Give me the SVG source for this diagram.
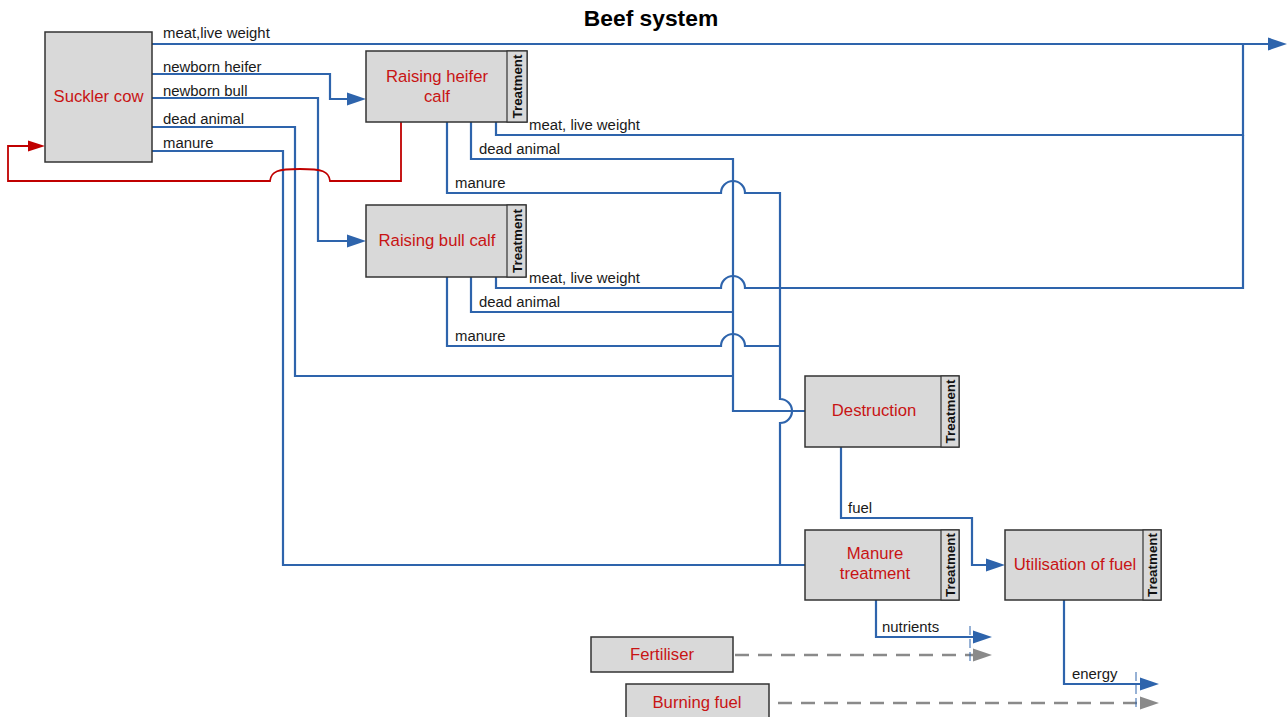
<svg xmlns="http://www.w3.org/2000/svg" width="1287" height="717" viewBox="0 0 1287 717">
<style>
.box{fill:#D9D9D9;stroke:#333;stroke-width:1.5}
.strip{fill:#D9D9D9;stroke:#333;stroke-width:1.2}
.nt{font-family:"Liberation Sans",Arial,sans-serif;font-size:16.7px;fill:#C81414;text-anchor:middle}
.tr{font-family:"Liberation Sans",Arial,sans-serif;font-size:13.4px;font-weight:bold;fill:#111;text-anchor:middle}
.lb{font-family:"Liberation Sans",Arial,sans-serif;font-size:14.9px;fill:#1a1a1a}
.c{fill:none;stroke:#2E64AC;stroke-width:2.2}
.cr{fill:none;stroke:#C00000;stroke-width:1.8}
.cg{fill:none;stroke:#8A8A8A;stroke-width:2.6;stroke-dasharray:14 9}
.mk{fill:none;stroke:#2E64AC;stroke-width:1;stroke-dasharray:9 4}
</style>
<defs>
<marker id="ab" markerUnits="userSpaceOnUse" markerWidth="19" markerHeight="14" refX="0" refY="7" orient="auto"><path d="M0,0.5 L19,7 L0,13.5 z" fill="#2E64AC"/></marker>
<marker id="ar" markerUnits="userSpaceOnUse" markerWidth="17" markerHeight="12" refX="0" refY="6" orient="auto"><path d="M0,0.5 L17,6 L0,11.5 z" fill="#C00000"/></marker>
<marker id="ag" markerUnits="userSpaceOnUse" markerWidth="19" markerHeight="14" refX="0" refY="7" orient="auto"><path d="M0,0.5 L19,7 L0,13.5 z" fill="#8A8A8A"/></marker>
</defs>
<text x="651" y="26" font-family="Liberation Sans,Arial,sans-serif" font-size="22.8" font-weight="bold" text-anchor="middle" fill="#000">Beef system</text>
<g id="connectors">
<path class="c" d="M152,44 H1268" marker-end="url(#ab)"/>
<path class="c" d="M152,74 H330 V99 H347" marker-end="url(#ab)"/>
<path class="c" d="M152,98 H318 V241 H347" marker-end="url(#ab)"/>
<path class="c" d="M152,127 H295 V376 H733"/>
<path class="c" d="M152,151 H283 V565 H805"/>
<path class="cr" d="M401,122 V181 H330 C329,171 322,169 300,169 C278,169 271,171 270,181 H8 V146 H28" marker-end="url(#ar)"/>
<path class="c" d="M496,122 V135 H1243 V44"/>
<path class="c" d="M471,122 V159 H733 V411 H805"/>
<path class="c" d="M447,122 V193 H721 A12,12 0 0 1 745,193 H780 V399 A12,12 0 0 1 780,423 V565"/>
<path class="c" d="M496,277 V288 H721 A12,12 0 0 1 745,288 H1243 V135"/>
<path class="c" d="M471,277 V312 H733"/>
<path class="c" d="M447,277 V346 H721 A12,12 0 0 1 745,346 H780"/>
<path class="c" d="M841,447 V518 H972 V565 H986" marker-end="url(#ab)"/>
<path class="c" d="M876,600 V637 H973" marker-end="url(#ab)"/>
<path class="c" d="M1064,600 V684 H1140" marker-end="url(#ab)"/>
<path class="cg" d="M735,655 H973" marker-end="url(#ag)"/>
<path class="cg" d="M778,703 H1140" marker-end="url(#ag)"/>
<path class="mk" d="M970,626 V664"/>
<path class="mk" d="M1136,672 V710"/>
<text class="lb" x="163" y="38">meat,live weight</text>
<text class="lb" x="163" y="72">newborn heifer</text>
<text class="lb" x="163" y="96">newborn bull</text>
<text class="lb" x="163" y="124">dead animal</text>
<text class="lb" x="163" y="148">manure</text>
<text class="lb" x="529" y="130">meat, live weight</text>
<text class="lb" x="479" y="154">dead animal</text>
<text class="lb" x="455" y="188">manure</text>
<text class="lb" x="529" y="283">meat, live weight</text>
<text class="lb" x="479" y="307">dead animal</text>
<text class="lb" x="455" y="341">manure</text>
<text class="lb" x="848" y="513">fuel</text>
<text class="lb" x="882" y="632">nutrients</text>
<text class="lb" x="1072" y="679">energy</text>
</g>
<g id="suckler-cow">
<rect class="box" x="45" y="32" width="107" height="130"/>
<text class="nt" x="98.5" y="102">Suckler cow</text>
</g>
<g id="raising-heifer-calf">
<rect class="box" x="366" y="51" width="161" height="71"/>
<rect class="strip" x="507" y="51" width="20" height="71"/>
<text class="tr" transform="translate(522,86.5) rotate(-90)">Treatment</text>
<text class="nt" x="437" y="82">Raising heifer</text>
<text class="nt" x="437" y="102">calf</text>
</g>
<g id="raising-bull-calf">
<rect class="box" x="366" y="205" width="160" height="72"/>
<rect class="strip" x="507" y="205" width="19" height="72"/>
<text class="tr" transform="translate(521.5,241) rotate(-90)">Treatment</text>
<text class="nt" x="437" y="246">Raising bull calf</text>
</g>
<g id="destruction">
<rect class="box" x="805" y="376" width="154" height="71"/>
<rect class="strip" x="941" y="376" width="18" height="71"/>
<text class="tr" transform="translate(955,411.5) rotate(-90)">Treatment</text>
<text class="nt" x="874" y="416">Destruction</text>
</g>
<g id="manure-treatment">
<rect class="box" x="805" y="530" width="154" height="70"/>
<rect class="strip" x="941" y="530" width="18" height="70"/>
<text class="tr" transform="translate(955,565) rotate(-90)">Treatment</text>
<text class="nt" x="875" y="559">Manure</text>
<text class="nt" x="875" y="579">treatment</text>
</g>
<g id="utilisation-of-fuel">
<rect class="box" x="1005" y="530" width="156" height="70"/>
<rect class="strip" x="1143" y="530" width="18" height="70"/>
<text class="tr" transform="translate(1157,565) rotate(-90)">Treatment</text>
<text class="nt" x="1075" y="570">Utilisation of fuel</text>
</g>
<g id="fertiliser">
<rect class="box" x="591" y="637" width="142" height="35"/>
<text class="nt" x="662" y="660">Fertiliser</text>
</g>
<g id="burning-fuel">
<rect class="box" x="626" y="684" width="143" height="40"/>
<text class="nt" x="697" y="708">Burning fuel</text>
</g>
</svg>
